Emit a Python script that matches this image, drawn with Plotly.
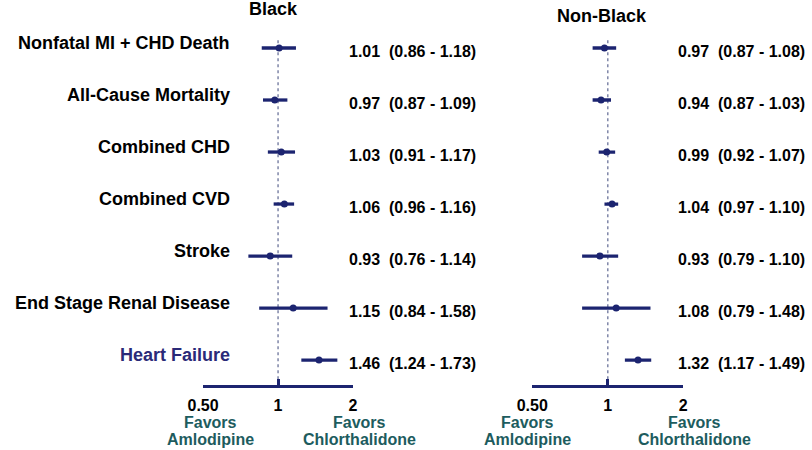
import plotly.graph_objects as go
from plotly.subplots import make_subplots

# data
outcomes = ["Nonfatal MI + CHD Death", "All-Cause Mortality", "Combined CHD",
            "Combined CVD", "Stroke", "End Stage Renal Disease", "Heart Failure"]
black_rr = [1.01, 0.97, 1.03, 1.06, 0.93, 1.15, 1.46]
black_lo = [0.86, 0.87, 0.91, 0.96, 0.76, 0.84, 1.24]
black_hi = [1.18, 1.09, 1.17, 1.16, 1.14, 1.58, 1.73]
nonblack_rr = [0.97, 0.94, 0.99, 1.04, 0.93, 1.08, 1.32]
nonblack_lo = [0.87, 0.87, 0.92, 0.97, 0.79, 0.79, 1.17]
nonblack_hi = [1.08, 1.03, 1.07, 1.10, 1.10, 1.48, 1.49]
tick_vals = [0.5, 1, 2]
tick_text = ["0.50", "1", "2"]

NAVY = "#1c2470"
TEAL = "#1d5c5e"
FONT = "Liberation Sans, Arial, sans-serif"

rows = list(range(len(outcomes)))

fig = make_subplots(rows=1, cols=2)

panels = [
    (1, black_rr, black_lo, black_hi),
    (2, nonblack_rr, nonblack_lo, nonblack_hi),
]
for col, rr, lo, hi in panels:
    # reference line at 1
    fig.add_trace(go.Scatter(
        x=[1, 1], y=[-0.15, 6.48], mode="lines",
        line=dict(color="#7f86a8", width=1.5, dash="dot"),
        hoverinfo="skip", showlegend=False), row=1, col=col)
    fig.add_trace(go.Scatter(
        x=rr, y=rows, mode="markers",
        marker=dict(color=NAVY, size=7),
        error_x=dict(type="data", symmetric=False,
                     array=[h - r for h, r in zip(hi, rr)],
                     arrayminus=[r - l for r, l in zip(rr, lo)],
                     color=NAVY, thickness=3.3, width=0),
        showlegend=False), row=1, col=col)
    # value labels
    xpos = 0.4187 if col == 1 else 0.835
    for i, (r, l, h) in enumerate(zip(rr, lo, hi)):
        fig.add_annotation(
            x=xpos, xref="paper", y=i, yref="y" if col == 1 else "y2",
            text=f"{r:.2f}  ({l:.2f} - {h:.2f})", showarrow=False,
            xanchor="left", yanchor="middle", yshift=-3,
            font=dict(family=FONT, size=16, color="black", weight="bold"))

for i, name in enumerate(outcomes):
    fig.add_annotation(
        x=0.2734, xref="paper", y=i, yref="y", text=name, showarrow=False,
        xanchor="right", yanchor="middle", yshift=5,
        font=dict(family=FONT, size=18, weight="bold",
                  color="#2a2a78" if name == "Heart Failure" else "black"))

# panel titles
fig.add_annotation(x=0.326, y=0.98, xref="paper", yref="paper", text="Black",
                   xanchor="center", yanchor="middle", showarrow=False,
                   font=dict(family=FONT, size=18, weight="bold", color="black"))
fig.add_annotation(x=0.7414, y=0.9644, xref="paper", yref="paper", text="Non-Black",
                   xanchor="center", yanchor="middle", showarrow=False,
                   font=dict(family=FONT, size=18, weight="bold", color="black"))

# favors labels
for cx, word in [(0.2463, "Amlodipine"), (0.4347, "Chlorthalidone"),
                 (0.6466, "Amlodipine"), (0.8584, "Chlorthalidone")]:
    fig.add_annotation(x=cx, y=0.0622, xref="paper", yref="paper", text="Favors",
                       xanchor="center", yanchor="middle", showarrow=False,
                       font=dict(family=FONT, size=16, weight="bold", color=TEAL))
    fig.add_annotation(x=cx, y=0.0244, xref="paper", yref="paper", text=word,
                       xanchor="center", yanchor="middle", showarrow=False,
                       font=dict(family=FONT, size=16, weight="bold", color=TEAL))

xaxis_style = dict(
    type="log", range=[-0.30103, 0.30103], tickvals=tick_vals, ticktext=tick_text,
    showgrid=False, zeroline=False, showline=True, linecolor=NAVY, linewidth=2.5,
    ticks="inside", ticklen=6, tickwidth=2.5, tickcolor=NAVY, ticklabelstandoff=4,
    tickfont=dict(family=FONT, size=16, color="black", weight="bold"))
fig.update_xaxes(**xaxis_style)
fig.update_xaxes(domain=[0.2365, 0.4261], row=1, col=1)
fig.update_xaxes(domain=[0.6527, 0.8436], row=1, col=2)
fig.update_yaxes(range=[6.48, -0.25], domain=[0.1444, 0.9222], visible=False,
                 showgrid=False, zeroline=False)

fig.update_layout(
    width=812, height=450,
    margin=dict(l=0, r=0, t=0, b=0),
    paper_bgcolor="white", plot_bgcolor="white",
    showlegend=False,
)

fig.write_html("out.html", config={"displayModeBar": False},
               post_script="document.body.style.margin='0';")
